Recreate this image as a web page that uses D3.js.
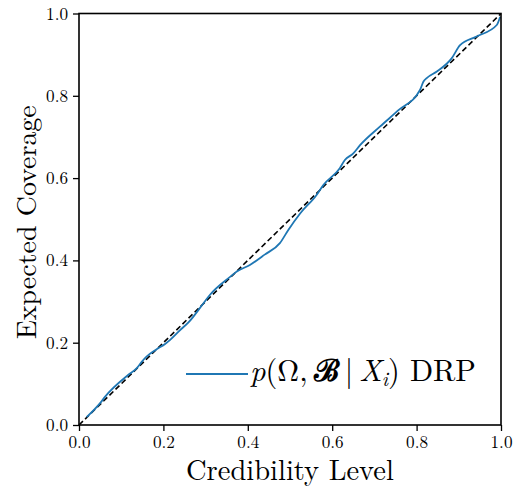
<!DOCTYPE html>
<html>
<head>
<meta charset="utf-8">
<script src="https://cdn.jsdelivr.net/npm/d3@7"></script>
<style>
  body { margin: 0; background: #fff; }
  svg text { font-family: "Latin Modern Roman", "CMU Serif", "DejaVu Serif", serif; fill: #000; }
</style>
</head>
<body>
<svg id="chart" width="515" height="487"></svg>
<script>
// credibility level vs expected coverage
var credLevel = [0.018, 0.050, 0.062, 0.117, 0.137, 0.149, 0.160, 0.184, 0.204, 0.216, 0.239,
                 0.260, 0.295, 0.310, 0.358, 0.374, 0.405, 0.440, 0.476, 0.496, 0.524, 0.563,
                 0.579, 0.618, 0.630, 0.650, 0.666, 0.713, 0.757, 0.808, 0.816, 0.824, 0.848,
                 0.883, 0.903, 0.942, 0.990, 0.998];
var coverage  = [0.019, 0.053, 0.069, 0.122, 0.138, 0.154, 0.166, 0.184, 0.197, 0.207, 0.230,
                 0.250, 0.296, 0.316, 0.360, 0.373, 0.389, 0.414, 0.442, 0.474, 0.514, 0.559,
                 0.583, 0.624, 0.644, 0.660, 0.680, 0.725, 0.765, 0.814, 0.834, 0.843, 0.859,
                 0.891, 0.923, 0.944, 0.972, 0.992];
var ticks = [0.0, 0.2, 0.4, 0.6, 0.8, 1.0];

var margin = {left: 79, top: 13.5, right: 14, bottom: 62};
var svg = d3.select("#chart");
var width = 515 - margin.left - margin.right,
    height = 487 - margin.top - margin.bottom;

var x = d3.scaleLinear().domain([0, 1]).range([0, width]);
var y = d3.scaleLinear().domain([0, 1]).range([height, 0]);

var g = svg.append("g").attr("transform", "translate(" + margin.left + "," + margin.top + ")");

// scale a text's font so it spans the wanted width
function fitWidth(sel, target) {
    var fs = +sel.attr("font-size");
    var w = sel.node().getComputedTextLength();
    if (w > 0) sel.attr("font-size", fs * target / w);
}

var line = d3.line()
    .x(function(d) { return x(d[0]); })
    .y(function(d) { return y(d[1]); });

// ideal calibration
g.append("path")
    .datum([[0, 0], [1, 1]])
    .attr("d", line)
    .attr("fill", "none")
    .attr("stroke", "#000")
    .attr("stroke-width", 1.6)
    .attr("stroke-dasharray", "5.5,3");

var pts = credLevel.map(function(c, i) { return [c, coverage[i]]; });
g.append("path")
    .datum(pts)
    .attr("d", line.curve(d3.curveMonotoneX))
    .attr("fill", "none")
    .attr("stroke", "#1f77b4")
    .attr("stroke-width", 1.8);

// frame
g.append("rect")
    .attr("width", width).attr("height", height)
    .attr("fill", "none").attr("stroke", "#000").attr("stroke-width", 1.6);

var xAxis = g.append("g").attr("transform", "translate(0," + height + ")")
    .call(d3.axisBottom(x).tickValues(ticks).tickFormat(d3.format(".1f")).tickSize(6).tickPadding(6));
var yAxis = g.append("g")
    .call(d3.axisLeft(y).tickValues(ticks).tickFormat(d3.format(".1f")).tickSize(6).tickPadding(5));
[xAxis, yAxis].forEach(function(a) {
    a.select(".domain").remove();
    a.attr("font-family", null);
    a.selectAll(".tick line").attr("stroke", "#000").attr("stroke-width", 1.3);
    a.selectAll(".tick text").attr("font-size", 17).attr("font-family", null)
        .each(function() { fitWidth(d3.select(this), 22); });
});
xAxis.selectAll(".tick text").attr("dy", null).attr("y", 0)
    .attr("transform", "translate(0,23)");

// axis labels
var xl = svg.append("text")
    .attr("x", margin.left + width / 2).attr("y", 480)
    .attr("text-anchor", "middle").attr("font-size", 29)
    .text("Credibility Level");
fitWidth(xl, 208);
var yl = svg.append("text")
    .attr("transform", "translate(36," + (margin.top + height / 2 + 3) + ") rotate(-90)")
    .attr("text-anchor", "middle").attr("font-size", 29)
    .text("Expected Coverage");
fitWidth(yl, 234);

// legend
var lg = g.append("g").attr("transform", "translate(107,360.5)");
lg.append("line").attr("x1", 0).attr("x2", 62).attr("stroke", "#1f77b4").attr("stroke-width", 1.8);
var lt = lg.append("text").attr("x", 64).attr("y", 7).attr("font-size", 28);
lt.append("tspan").attr("font-style", "italic").text("p");
lt.append("tspan").text("(Ω,\u2009");
lt.append("tspan").attr("font-weight", "bold").text("ℬ");
lt.append("tspan").text("\u2009|\u2009");
lt.append("tspan").attr("font-style", "italic").text("X");
lt.append("tspan").attr("class", "sub").attr("font-style", "italic").attr("font-size", 19).attr("dy", 5).text("i");
lt.append("tspan").attr("dy", -5).text(") DRP");
var w0 = lt.node().getComputedTextLength();
if (w0 > 0) {
    var k = 226 / w0;
    lt.attr("font-size", 28 * k);
    lt.select(".sub").attr("font-size", 19 * k);
}
</script>
</body>
</html>
